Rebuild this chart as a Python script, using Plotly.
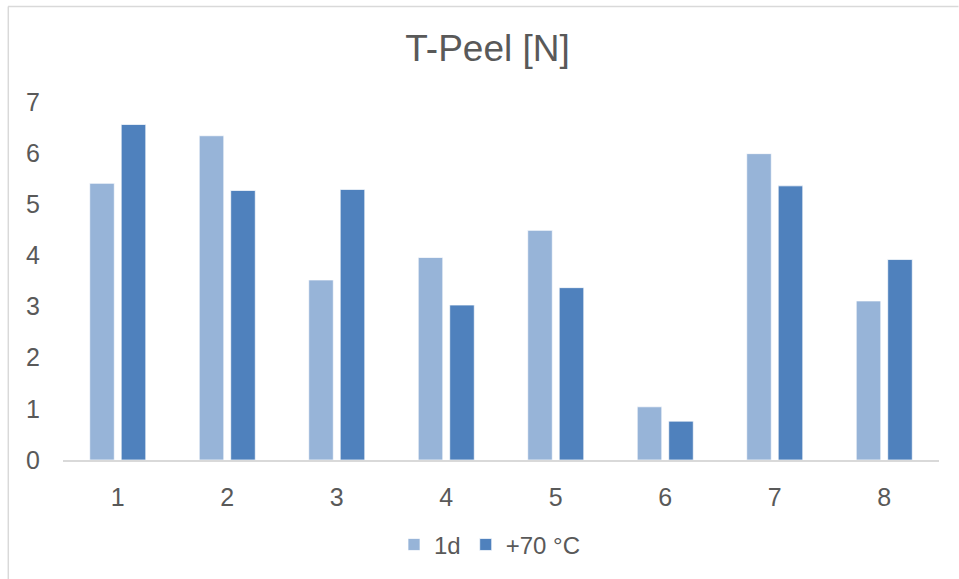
import plotly.graph_objects as go

categories = ["1", "2", "3", "4", "5", "6", "7", "8"]
series_1d = [5.41, 6.34, 3.52, 3.96, 4.49, 1.04, 5.99, 3.11]
series_70c = [6.56, 5.27, 5.29, 3.03, 3.37, 0.76, 5.36, 3.92]
series_names = ["1d", "+70 °C"]
y_ticks = [0, 1, 2, 3, 4, 5, 6, 7]

W, H = 959, 579
L, R, T, B = 63, 20, 101.5, 119
pw, ph = W - L - R, H - T - B

def px(x):
    return (x - L) / pw

def py(y):
    return (H - B - y) / ph

font = "Liberation Sans, Arial, sans-serif"
grey = "#595959"

fig = go.Figure()
fig.add_trace(go.Bar(x=categories, y=series_1d, name=series_names[0],
                     marker=dict(color="#97B4D8", line=dict(color="rgba(255,255,255,0.7)", width=1))))
fig.add_trace(go.Bar(x=categories, y=series_70c, name=series_names[1],
                     marker=dict(color="#4F81BD", line=dict(color="rgba(255,255,255,0.7)", width=1))))

fig.update_layout(
    width=W, height=H,
    margin=dict(l=L, r=R, t=T, b=B, pad=0),
    paper_bgcolor="white", plot_bgcolor="white",
    barmode="group", bargap=0.425, bargroupgap=0.22,
    title=dict(text="T-Peel [N]", x=487.5 / W, xanchor="center", xref="container",
               y=1 - 48 / H, yanchor="middle", yref="container",
               font=dict(family=font, size=37, color=grey)),
    font=dict(family=font, color=grey),
    showlegend=True,
    legend=dict(orientation="h", x=px(490), xanchor="center", y=py(545), yanchor="middle",
                font=dict(family=font, size=24, color=grey), itemwidth=30,
                traceorder="normal", bgcolor="rgba(0,0,0,0)"),
    xaxis=dict(type="category", showgrid=False, showline=True, linecolor="#D9D9D9", linewidth=2,
               ticks="", tickfont=dict(family=font, size=25, color=grey), ticklabelstandoff=14),
    yaxis=dict(range=[0, 7], tickvals=y_ticks, showgrid=False, showline=False, zeroline=False,
               ticks="", tickfont=dict(family=font, size=25, color=grey), ticklabelstandoff=22),
    shapes=[
        dict(type="line", xref="paper", yref="paper", x0=px(8), x1=px(958.5), y0=py(5.8), y1=py(5.8),
             line=dict(color="#D9D9D9", width=1.5)),
        dict(type="line", xref="paper", yref="paper", x0=px(8.3), x1=px(8.3), y0=py(5.8), y1=py(580),
             line=dict(color="#D9D9D9", width=1.5)),
    ],
)

fig.write_html("out.html")
